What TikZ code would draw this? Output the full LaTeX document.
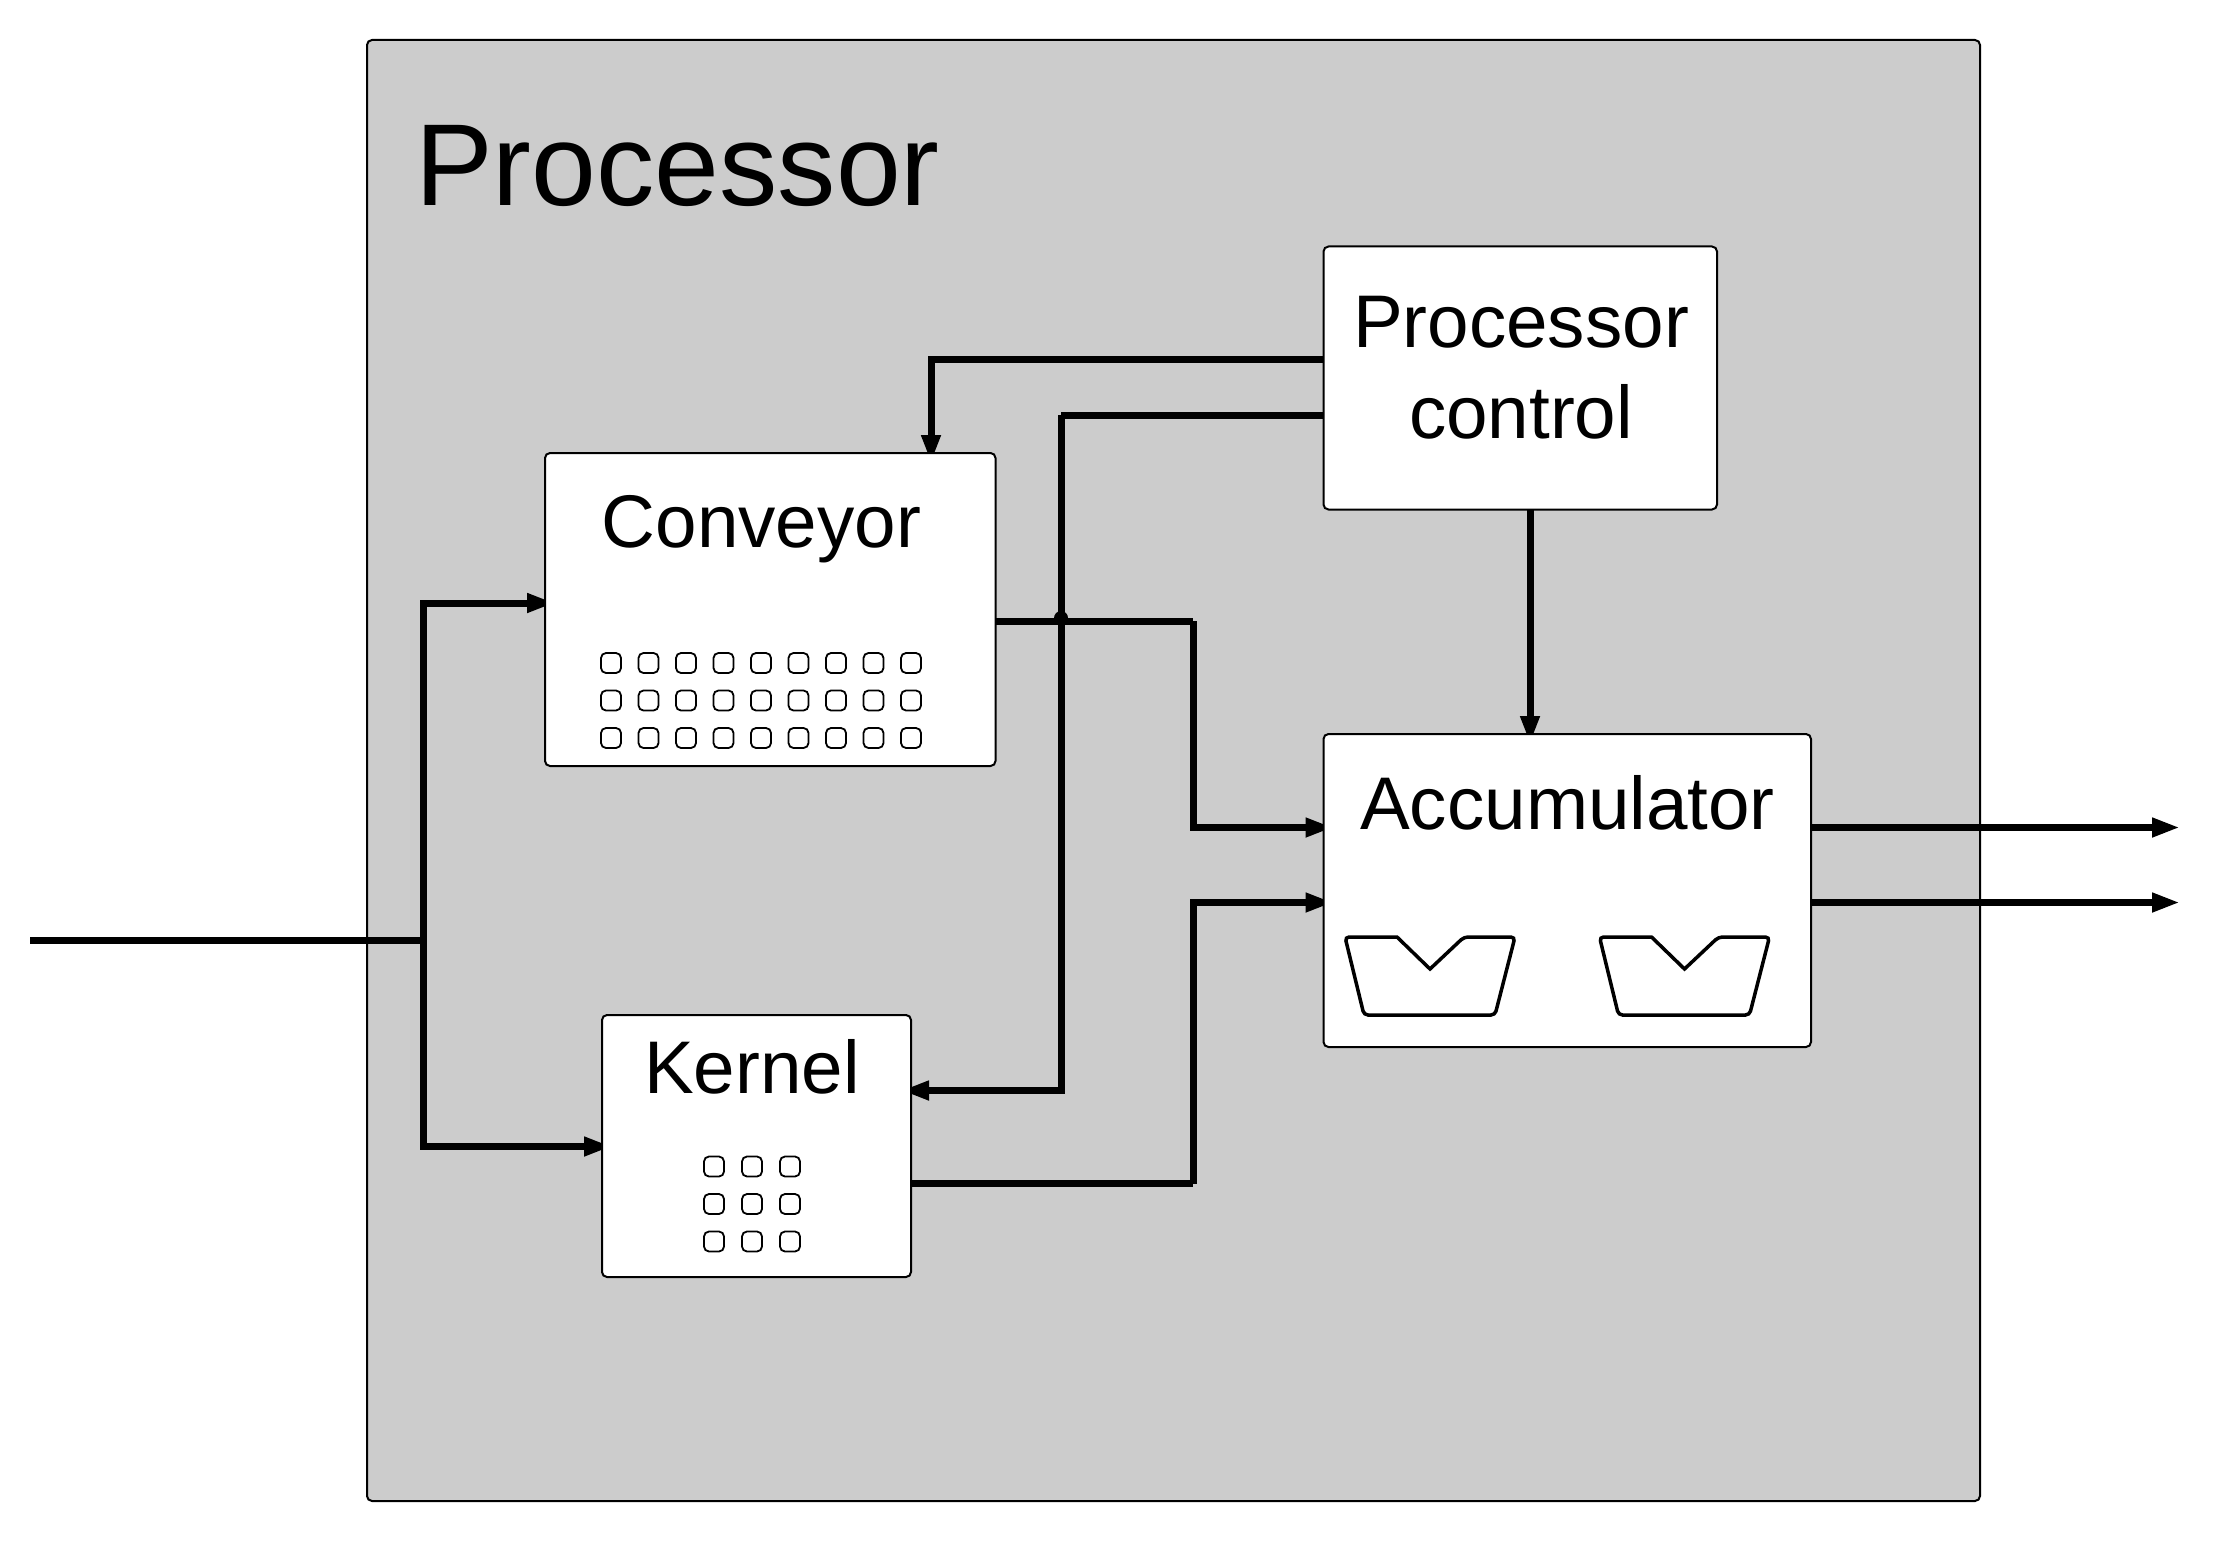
\documentclass[tikz,border=0pt]{standalone}
\usepackage{fontspec}
\setmainfont{Liberation Sans}
\usetikzlibrary{positioning,arrows.meta}

\pgfdeclarelayer{frame}
\pgfdeclarelayer{wires}
\pgfsetlayers{frame,wires,main}

\tikzset{
  block/.style={draw, line width=2pt, fill=white, rounded corners=5pt, inner sep=0pt, outer sep=0pt, anchor=north west},
  title/.style={anchor=base, inner sep=0pt, font=\fontsize{74.6}{90}\selectfont},
  wire/.style={line width=7pt},
  flow/.style={wire, -{Triangle[length=28pt,width=18pt]}},
  feed/.style={flow, shorten >=-10pt},
  cell/.style={draw, line width=1.8pt, rounded corners=5pt, minimum width=20pt, minimum height=20pt, inner sep=0pt},
  bucket/.style={line width=3.5pt, rounded corners=4pt}
}

\begin{document}
\begin{tikzpicture}[x=1pt,y=-1pt]

    \useasboundingbox (0,0) rectangle (2222,1562);

    % Draw the processor frame
    \begin{pgfonlayer}{frame}
      \node[block, fill=black!20, minimum width=1613pt, minimum height=1461pt] (processor) at (367,40) {};
    \end{pgfonlayer}
    \node[anchor=base west, inner sep=0pt, font=\fontsize{116.5}{130}\selectfont] (processorlabel) at (415,206) {Processor};

    % Draw the blocks
    \node[block, minimum width=393.5pt, minimum height=263pt] (control) at (1323.5,246.5) {};
    \node[block, minimum width=450.5pt, minimum height=313pt] (conveyor) at (545,453) {};
    \node[block, minimum width=309pt, minimum height=262pt] (kernel) at (602,1015) {};
    \node[block, minimum width=487.5pt, minimum height=313pt] (accumulator) at (1323.5,734) {};

    % Draw the block labels
    \node[title] (controlupper) at (1521,347) {Processor};
    \node[title] (controllower) at (1521,438) {control};
    \node[title] (conveyorlabel) at (761.5,547) {Conveyor};
    \node[title] (kernellabel) at (752,1093) {Kernel};
    \node[title] (accumulatorlabel) at (1567.5,829) {Accumulator};

    % Draw the cells of the conveyor and the kernel
    \foreach \col in {0,...,8}
      \foreach \row in {0,1,2}
        \node[cell] (conveyorcell\col\row) at (611+37.5*\col,663+37.5*\row) {};
    \foreach \col in {0,1,2}
      \foreach \row in {0,1,2}
        \node[cell] (kernelcell\col\row) at (714+38*\col,1166.5+37.5*\row) {};

    % Draw the two buckets of the accumulator
    \foreach \shift in {0,254.5}
      \draw[bucket, xshift=\shift pt] (1397,937) -- (1345,937) -- (1364,1015) -- (1495,1015) -- (1515,937) -- (1464,937) [sharp corners] -- (1430,969) -- cycle;

    % Points where the wires start, bend and end
    \coordinate (source) at (30,940);
    \coordinate (split) at (423,940);
    \coordinate (conveyorin) at (conveyor.west |- 0,603);
    \coordinate (kernelin) at (kernel.west |- 0,1146.5);
    \coordinate (conveyorout) at (conveyor.east |- 0,621);
    \coordinate (kernelout) at (kernel.east |- 0,1183.5);
    \coordinate (accupper) at (accumulator.west |- 0,827.5);
    \coordinate (acclower) at (accumulator.west |- 0,902.5);
    \coordinate (upperend) at (2180,827.5);
    \coordinate (lowerend) at (2180,902.5);
    \coordinate (upperbus) at (1193,621);
    \coordinate (lowerbus) at (1193,1183.5);
    \coordinate (controlleft) at (control.west |- 0,359);
    \coordinate (controlback) at (control.west |- 0,415);
    \coordinate (conveyortop) at (931,453);
    \coordinate (kernelback) at (kernel.east |- 0,1090.5);
    \coordinate (backbend) at (1061,415);
    \coordinate (controldown) at (1530,509.5);
    \coordinate (accumulatortop) at (1530,734);

    \begin{pgfonlayer}{wires}
    % Draw the inputs
    \draw[wire] (source) -- (split);
    \draw[feed] (split) |- (conveyorin);
    \draw[feed] (split) |- (kernelin);

    % Draw the wires into the accumulator
    \draw[wire] (conveyorout) -- (upperbus);
    \draw[feed] (upperbus) |- (accupper);
    \draw[wire] (kernelout) -- (lowerbus);
    \draw[feed] (lowerbus) |- (acclower);

    % Draw the outputs
    \draw[flow] (accupper -| accumulator.east) -- (upperend);
    \draw[flow] (acclower -| accumulator.east) -- (lowerend);

    % Draw the control wires
    \draw[feed] (controlleft) -| (conveyortop);
    \draw[wire] (controlback) -- (backbend);
    \draw[feed] (backbend) |- (kernelback);
    \draw[feed] (controldown) -- (accumulatortop);

    % Draw the bump on the crossing
    \fill (1061,618) circle (7pt);
    \end{pgfonlayer}

  \end{tikzpicture}
\end{document}
